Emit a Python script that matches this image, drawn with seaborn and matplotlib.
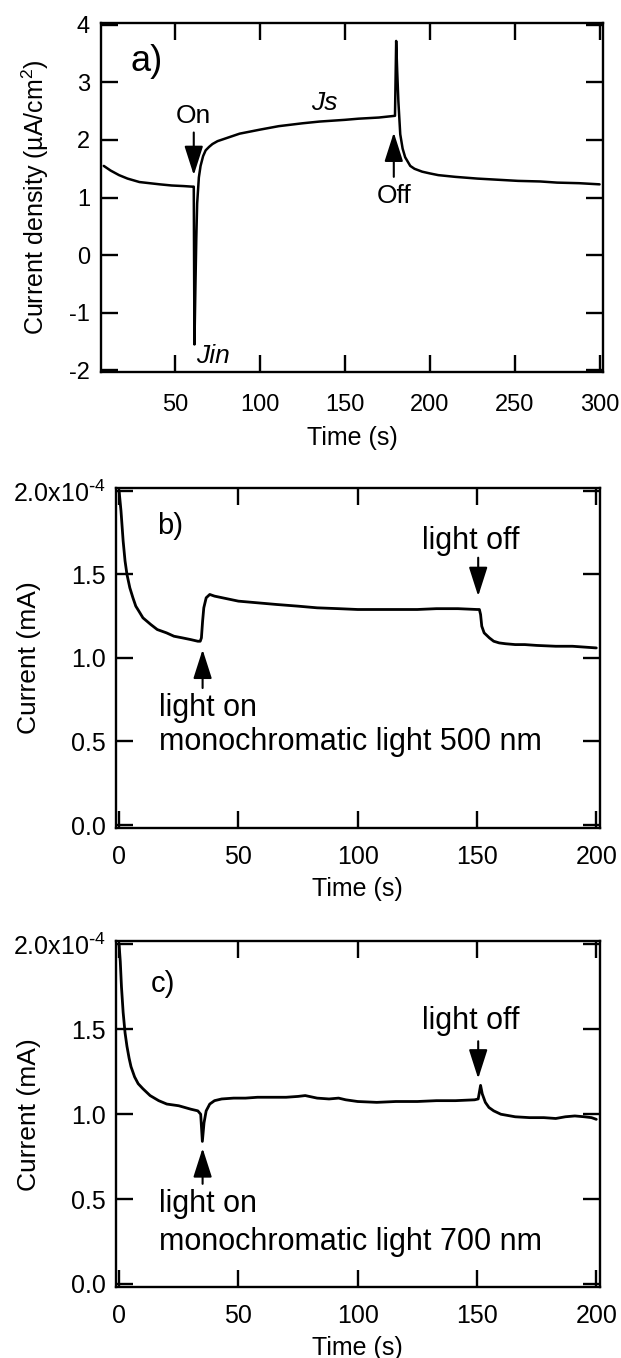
import numpy as np
import pandas as pd
import matplotlib
matplotlib.use("Agg")
import matplotlib.pyplot as plt
from matplotlib.ticker import FuncFormatter, FixedLocator
import seaborn as sns

# ---------------- data ----------------
# panel a: current density (uA/cm^2) vs time (s)
time_a = [8, 12, 17, 22, 29, 35, 41, 48, 55, 60, 61.0, 61.4, 62.0, 62.5, 63, 64, 65,
          66.5, 68, 70, 72, 75, 80, 88, 100, 111, 125, 135, 150, 158, 170, 179.5,
          180.2, 180.8, 181.5, 182.6, 184, 185.5, 188.5, 191, 195.5, 200, 205, 215,
          228, 240, 252, 265, 275, 288, 300]
jd_a = [1.55, 1.47, 1.39, 1.33, 1.27, 1.25, 1.23, 1.21, 1.20, 1.19, 1.19, -1.55,
        -0.5, 0.3, 0.9, 1.35, 1.55, 1.72, 1.82, 1.88, 1.93, 1.98, 2.03, 2.11, 2.18,
        2.24, 2.29, 2.32, 2.35, 2.37, 2.39, 2.42, 3.72, 3.2, 2.67, 2.1, 1.85, 1.70,
        1.55, 1.50, 1.45, 1.42, 1.39, 1.36, 1.33, 1.31, 1.29, 1.28, 1.26, 1.25, 1.23]

# panel b: current (mA) vs time (s), 500 nm
time_b = [0, 0.8, 1.7, 2.5, 3.3, 4.5, 5.8, 7, 8.3, 10, 13.3, 16, 19.9, 23, 26.6, 30,
          33, 34, 34.5, 35, 35.5, 36.5, 38, 40, 45, 50, 58, 66, 75, 83, 92, 100, 108,
          116, 125, 133, 142, 150, 151, 151.5, 152, 153, 155.2, 157, 159.3, 162, 166,
          170, 175, 183, 190, 195, 200]
cur_b = [2.0e-4, 1.88e-4, 1.70e-4, 1.58e-4, 1.50e-4, 1.42e-4, 1.36e-4, 1.31e-4,
         1.28e-4, 1.24e-4, 1.20e-4, 1.17e-4, 1.15e-4, 1.13e-4, 1.12e-4, 1.11e-4,
         1.10e-4, 1.10e-4, 1.12e-4, 1.22e-4, 1.30e-4, 1.36e-4, 1.38e-4, 1.37e-4,
         1.355e-4, 1.34e-4, 1.33e-4, 1.32e-4, 1.31e-4, 1.30e-4, 1.295e-4, 1.29e-4,
         1.29e-4, 1.29e-4, 1.29e-4, 1.295e-4, 1.295e-4, 1.29e-4, 1.29e-4, 1.26e-4,
         1.19e-4, 1.15e-4, 1.12e-4, 1.10e-4, 1.09e-4, 1.085e-4, 1.08e-4, 1.08e-4,
         1.075e-4, 1.07e-4, 1.07e-4, 1.065e-4, 1.06e-4]

# panel c: current (mA) vs time (s), 700 nm
time_c = [0, 0.5, 1, 1.7, 2.5, 3.3, 4.2, 5, 6.5, 8, 10, 13, 16.6, 20, 25, 30, 33,
          34.2, 34.9, 35.6, 36.5, 38, 40, 43, 48, 53, 58, 65, 70, 75, 78, 83, 88, 92,
          95, 100, 108, 116, 125, 133, 141, 149, 150.5, 151.5, 152.2, 153.5, 155, 157,
          160, 166, 172, 178, 183, 187, 191, 195, 198, 200]
cur_c = [2.0e-4, 1.9e-4, 1.75e-4, 1.6e-4, 1.48e-4, 1.40e-4, 1.33e-4, 1.28e-4,
         1.22e-4, 1.18e-4, 1.15e-4, 1.11e-4, 1.08e-4, 1.06e-4, 1.05e-4, 1.03e-4,
         1.02e-4, 1.0e-4, 0.84e-4, 0.95e-4, 1.02e-4, 1.06e-4, 1.08e-4, 1.09e-4,
         1.095e-4, 1.095e-4, 1.10e-4, 1.10e-4, 1.10e-4, 1.105e-4, 1.11e-4, 1.095e-4,
         1.09e-4, 1.095e-4, 1.085e-4, 1.075e-4, 1.07e-4, 1.075e-4, 1.075e-4, 1.08e-4,
         1.08e-4, 1.085e-4, 1.09e-4, 1.17e-4, 1.12e-4, 1.07e-4, 1.04e-4, 1.02e-4,
         1.00e-4, 0.985e-4, 0.98e-4, 0.98e-4, 0.975e-4, 0.985e-4, 0.99e-4, 0.985e-4,
         0.98e-4, 0.97e-4]

xticks_a = [50, 100, 150, 200, 250, 300]
yticks_a = [-2, -1, 0, 1, 2, 3, 4]
xticks_bc = [0, 50, 100, 150, 200]
yticks_bc = [0.0, 0.5e-4, 1.0e-4, 1.5e-4, 2.0e-4]

# ---------------- style ----------------
sns.set_theme(style="ticks")
plt.rcParams["font.family"] = ["Liberation Sans", "DejaVu Sans"]
plt.rcParams["mathtext.default"] = "regular"
plt.rcParams["axes.unicode_minus"] = False
plt.rcParams["axes.linewidth"] = 1.6
plt.rcParams["text.color"] = "black"
plt.rcParams["axes.labelcolor"] = "black"
plt.rcParams["xtick.color"] = "black"
plt.rcParams["ytick.color"] = "black"

fig = plt.figure(figsize=(6.21, 13.58), dpi=100)
ax_a = fig.add_axes([0.163, 0.726, 0.808, 0.257])
ax_b = fig.add_axes([0.186, 0.390, 0.780, 0.251])
ax_c = fig.add_axes([0.186, 0.052, 0.780, 0.255])

for ax in (ax_a, ax_b, ax_c):
    for s in ax.spines.values():
        s.set_color("black")
        s.set_linewidth(1.7)
    ax.tick_params(which="major", direction="in", top=True, right=True,
                   length=12, width=1.7, color="black")

arrow = dict(arrowstyle="-|>,head_length=0.75,head_width=0.24", color="black",
             lw=1.5, shrinkA=0, shrinkB=0, mutation_scale=24)

# ---------------- panel a ----------------
df_a = pd.DataFrame({"t": time_a, "j": jd_a})
sns.lineplot(data=df_a, x="t", y="j", ax=ax_a, color="black", lw=1.8,
             estimator=None, sort=False)
ax_a.set_xlim(6.5, 302)
ax_a.set_ylim(-2.03, 4.03)
ax_a.xaxis.set_major_locator(FixedLocator(xticks_a))
ax_a.yaxis.set_major_locator(FixedLocator(yticks_a))
ax_a.tick_params(axis="both", labelsize=17, labelcolor="black")
ax_a.tick_params(axis="x", pad=16)
ax_a.tick_params(axis="y", pad=8)
ax_a.set_xlabel("Time (s)", fontsize=18, labelpad=7, color="black")
ax_a.set_ylabel("Current density (µA/cm$^{2}$)", fontsize=18, color="black")
ax_a.yaxis.set_label_coords(-0.10, 0.5)
ax_a.text(33.5, 3.36, "a)", fontsize=26, ha="center", va="center", color="black")
ax_a.text(60.6, 2.42, "On", fontsize=19, ha="center", va="center", color="black")
ax_a.annotate("", xy=(61, 1.39), xytext=(61, 2.13), arrowprops=arrow)
ax_a.text(138, 2.65, "Js", fontsize=19, ha="center", va="center", style="italic",
          color="black")
ax_a.text(72.3, -1.75, "Jin", fontsize=19, ha="center", va="center", style="italic",
          color="black")
ax_a.text(179, 1.02, "Off", fontsize=19, ha="center", va="center", color="black")
ax_a.annotate("", xy=(178.8, 2.13), xytext=(178.8, 1.36), arrowprops=arrow)


def fmt_bc(v, pos):
    if abs(v - 2.0e-4) < 1e-9:
        return r"2.0x10$^{\text{-}4}$"
    return f"{v * 1e4:.1f}"


def setup_bc(ax, t, c, label, wl, on_y, mono_y, off_y, off_arrow, on_arrow):
    df = pd.DataFrame({"t": t, "c": c})
    sns.lineplot(data=df, x="t", y="c", ax=ax, color="black", lw=2.0,
                 estimator=None, sort=False)
    ax.set_xlim(-1.5, 201.5)
    ax.set_ylim(-0.02e-4, 2.02e-4)
    ax.xaxis.set_major_locator(FixedLocator(xticks_bc))
    ax.yaxis.set_major_locator(FixedLocator(yticks_bc))
    ax.yaxis.set_major_formatter(FuncFormatter(fmt_bc))
    ax.tick_params(axis="both", labelsize=18, labelcolor="black")
    ax.tick_params(axis="x", pad=12)
    ax.tick_params(axis="y", pad=7)
    ax.set_xlabel("Time (s)", fontsize=18, labelpad=6, color="black")
    ax.set_ylabel("Current (mA)", fontsize=19, color="black")
    ax.yaxis.set_label_coords(-0.153, 0.5)
    ax.text(label[1], label[2], label[0], fontsize=21, ha="center", va="center",
            color="black")
    ax.text(147.5, off_y, "light off", fontsize=22, ha="center", va="center",
            color="black")
    ax.annotate("", xy=(150.5, off_arrow[1]), xytext=(150.5, off_arrow[0]),
                arrowprops=arrow)
    ax.annotate("", xy=(35.0, on_arrow[1]), xytext=(35.0, on_arrow[0]),
                arrowprops=arrow)
    ax.text(16.9, on_y, "light on", fontsize=22, ha="left", va="center",
            color="black")
    ax.text(16.9, mono_y, f"monochromatic light {wl} nm", fontsize=22,
            ha="left", va="center", color="black")


setup_bc(ax_b, time_b, cur_b, ("b)", 21.5, 1.79e-4), 500,
         0.70e-4, 0.494e-4, 1.70e-4, (1.60e-4, 1.37e-4), (0.82e-4, 1.05e-4))
setup_bc(ax_c, time_c, cur_c, ("c)", 18.3, 1.77e-4), 700,
         0.47e-4, 0.25e-4, 1.55e-4, (1.43e-4, 1.21e-4), (0.59e-4, 0.80e-4))

fig.savefig("out.png", dpi=100)
